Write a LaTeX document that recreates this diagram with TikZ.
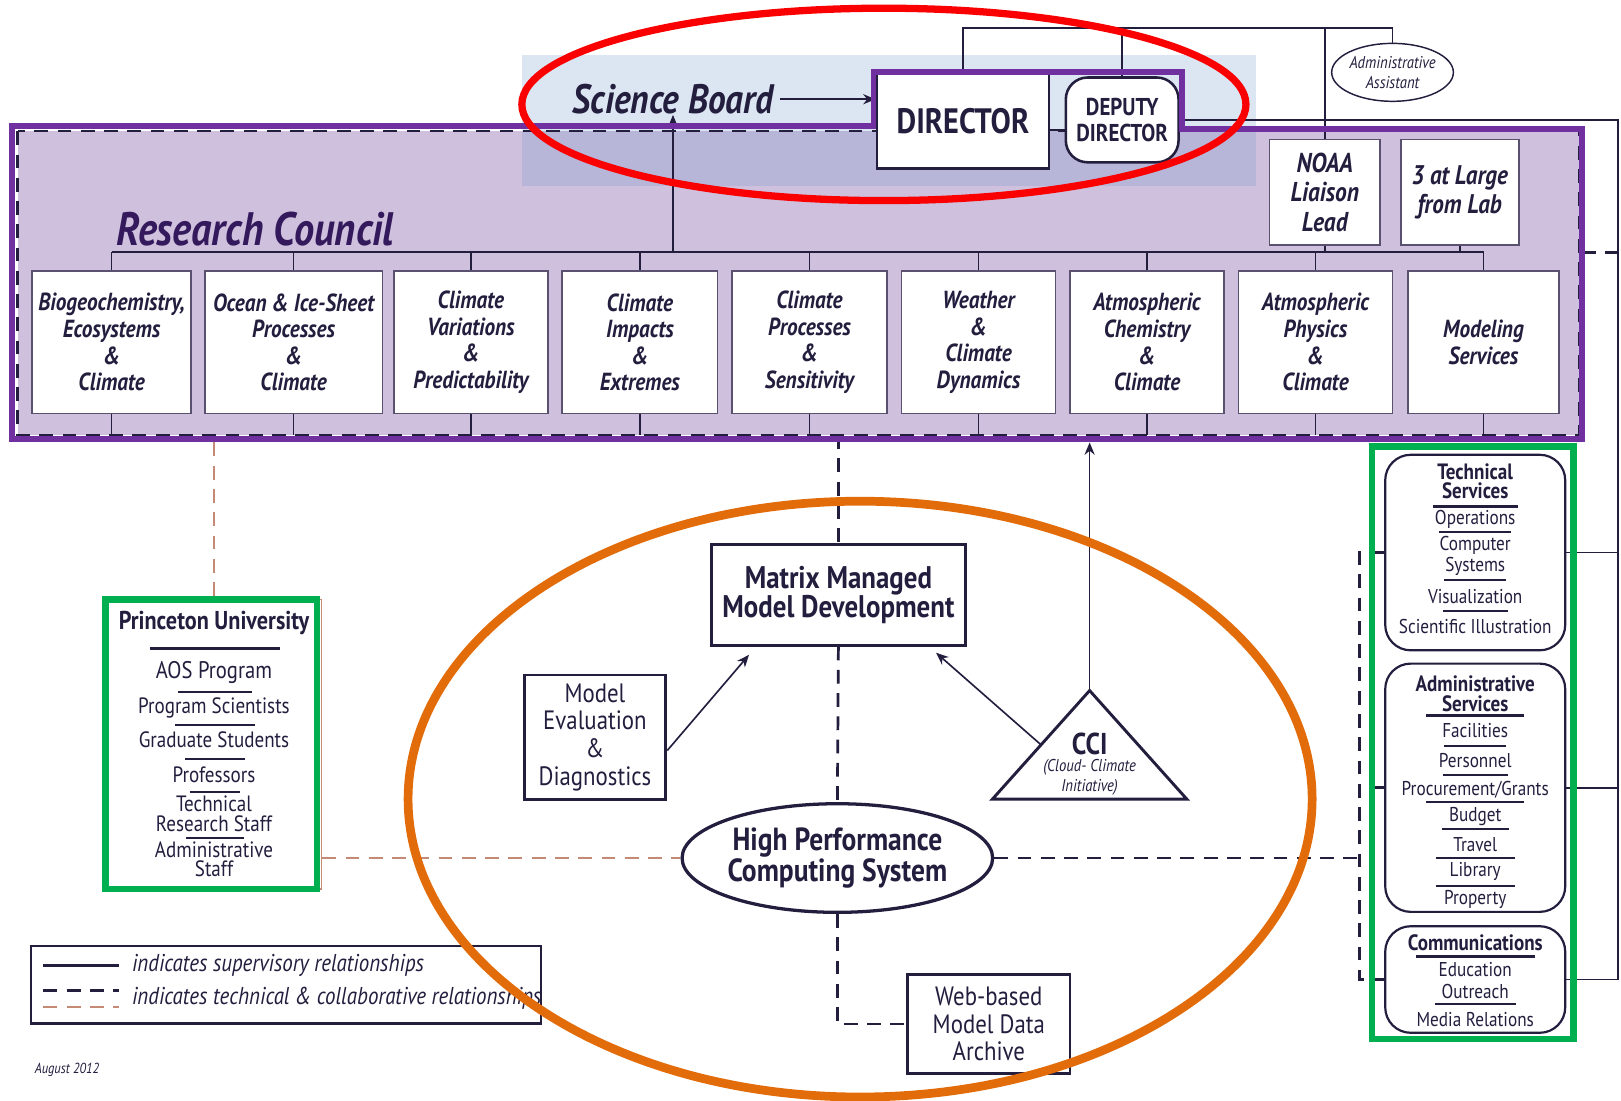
\documentclass[tikz,border=0pt]{standalone}
\usepackage{fontspec}
\setmainfont{PT Sans}[FakeStretch=0.86]
\usetikzlibrary{shapes.geometric,arrows.meta,calc}
\newcommand\fs[2]{\fontsize{#1}{#2}\selectfont}
\definecolor{ink}{RGB}{35,30,62}
\definecolor{lav}{RGB}{207,193,221}
\definecolor{sblue}{RGB}{220,230,242}
\definecolor{sblue2}{RGB}{183,182,216}
\definecolor{purp}{RGB}{112,48,160}
\definecolor{rcol}{RGB}{250,0,0}
\definecolor{ocol}{RGB}{227,108,10}
\definecolor{gcol}{RGB}{0,176,80}
\definecolor{brn}{RGB}{196,138,118}
\definecolor{rctext}{RGB}{52,26,92}
\definecolor{gb}{RGB}{90,80,112}
\newcommand\rl[3]{\draw[line width=0.5pt, draw=ink] (#1-#3/2,#2) -- (#1+#3/2,#2);}
\newcommand\rlt[3]{\draw[line width=0.85pt, draw=ink] (#1-#3/2,#2) -- (#1+#3/2,#2);}
\begin{document}
\begin{tikzpicture}[x=0.01cm,y=-0.01cm,
  ln/.style={draw=ink, line width=0.45pt},
  gbox/.style={draw=gb, line width=0.5pt, fill=white, align=center, inner sep=0pt, text=ink,
    font=\fs{6.8}{7.3}\bfseries\itshape, minimum height=1.38cm},
  dsh/.style={dashed, dash pattern=on 3.8pt off 2.6pt, line width=0.75pt, draw=ink},
  bdsh/.style={dsh, draw=brn},
  arr/.style={-{Stealth[length=3.4pt,width=2.8pt]}, line width=0.45pt, draw=ink},
  sv/.style={font=\fs{5.5}{6}, text=ink, inner sep=0pt},
  svb/.style={font=\fs{6.1}{6.6}\bfseries, text=ink, inner sep=0pt},
  pt/.style={font=\fs{6.1}{6.6}, text=ink, inner sep=0pt},
  box/.style={draw=ink, line width=0.8pt, fill=white, align=center, inner sep=0pt, text=ink}]
\useasboundingbox[fill=white] (0,0) rectangle (1568,1065);

% backgrounds
\fill[lav] (17,127) rectangle (1527,421);
\fill[sblue] (505,53) rectangle (1215,127);
\fill[sblue2] (505,127) rectangle (1215,180);
\draw[dsh, line width=0.6pt] (17,127) rectangle (1527,421);

% coordinates
\coordinate (topbar) at (0,27);
\coordinate (bus) at (0,244);
\coordinate (rcb) at (0,421);
\coordinate (rcb2) at (0,428);
\coordinate (dd) at (0,126);
\coordinate (re) at (1565,0);
\coordinate (brk) at (1315,0);
\coordinate (rcR) at (1530,244);
\coordinate (edgeR) at (1568,244);

% top nodes
\node[name=sb, font=\fs{11.3}{12}\bfseries\itshape, text=ink, inner sep=0pt] at (651,96) {Science Board};
\node[name=dir, draw=ink, line width=0.6pt, fill=white, minimum width=1.67cm, minimum height=0.91cm,
  font=\fs{9.7}{11}\bfseries, text=ink] at (931.5,117.5) {DIRECTOR};
\node[name=dep, draw=ink, line width=0.7pt, fill=white, rounded corners=6pt, minimum width=1.09cm,
  minimum height=0.82cm, align=center, font=\fs{6.7}{7.2}\bfseries, text=ink, inner sep=0pt] at (1085.5,116) {DEPUTY\\DIRECTOR};
\node[name=aa, ellipse, draw=ink, line width=0.4pt, fill=white, minimum width=1.0cm, minimum height=0.56cm,
  inner sep=0pt, align=center, font=\fs{4.7}{5.4}\itshape, text=ink] at (1347,70) {Administrative\\Assistant};

\node[name=noaa, gbox, minimum width=1.07cm, minimum height=1.02cm, font=\fs{7.5}{8.1}\bfseries\itshape] at (1281.5,186) {NOAA\\Liaison\\Lead};
\node[name=lab, gbox, minimum width=1.14cm, minimum height=1.02cm, font=\fs{7.4}{8}\bfseries\itshape] at (1412,186) {3 at Large\\from Lab};

\node[name=rc, anchor=west, font=\fs{12.9}{14}\bfseries\itshape, text=rctext, inner sep=0pt] at (112,222) {Research Council};

% research groups
\node[name=g1, gbox, minimum width=1.54cm] at (108,331) {Biogeochemistry,\\Ecosystems\\\&\\Climate};
\node[name=g2, gbox, minimum width=1.72cm] at (284,331) {Ocean \& Ice-Sheet\\Processes\\\&\\Climate};
\node[name=g3, gbox, minimum width=1.49cm] at (455.5,331) {Climate\\Variations\\\&\\Predictability};
\node[name=g4, gbox, minimum width=1.50cm] at (619,331) {Climate\\Impacts\\\&\\Extremes};
\node[name=g5, gbox, minimum width=1.50cm] at (783,331) {Climate\\Processes\\\&\\Sensitivity};
\node[name=g6, gbox, minimum width=1.49cm] at (946.5,331) {Weather\\\&\\Climate\\Dynamics};
\node[name=g7, gbox, minimum width=1.49cm] at (1109.5,331) {Atmospheric\\Chemistry\\\&\\Climate};
\node[name=g8, gbox, minimum width=1.49cm] at (1272.5,331) {Atmospheric\\Physics\\\&\\Climate};
\node[name=g9, gbox, minimum width=1.46cm] at (1435,331) {Modeling\\Services};

% council connectors
\draw[ln] (g1.north |- bus) -- (g9.north |- bus);
\foreach \g in {g1,g2,g3,g4,g5,g6,g7,g8,g9} {
  \draw[ln] (\g.north) -- (\g.north |- bus);
  \draw[ln] (\g.south) -- (\g.south |- rcb);
}
\draw[ln] (noaa.south) -- (noaa.south |- bus);
\draw[ln] (lab.south) -- (lab.south |- bus);
\draw[arr] (sb.south |- bus) -- (sb.south);
\draw[arr] ($(sb.east)+(6,0)$) -- (sb.east -| dir.west);

% top connectors
\draw[ln] (dir.north) -- (dir.north |- topbar) -- (aa.north |- topbar) -- (aa.north);
\draw[ln] (dep.north) -- (dep.north |- topbar);
\draw[ln] (noaa.north) -- (noaa.north |- topbar);
\draw[ln] (dir.east |- dd) -- (dep.west |- dd);
\draw[dsh] (rcR) -- (edgeR);

% services
\node[name=ts, draw=ink, line width=0.6pt, fill=white, rounded corners=7pt, minimum width=1.74cm, minimum height=1.89cm] at (1427,534.5) {};
\node[name=as, draw=ink, line width=0.6pt, fill=white, rounded corners=7pt, minimum width=1.74cm, minimum height=2.40cm] at (1427,762) {};
\node[name=comm, draw=ink, line width=0.6pt, fill=white, rounded corners=7pt, minimum width=1.74cm, minimum height=1.03cm] at (1427,947.5) {};

\node[name=ts1, svb] at (1427,456) {Technical};
\node[name=ts2, svb] at (1427,475) {Services};
\rlt{1427}{490}{82}
\node[name=ts3, sv] at (1427,502) {Operations};
\rl{1427}{515}{70}
\node[name=ts4, sv] at (1427,528) {Computer};
\node[name=ts5, sv] at (1427,548) {Systems};
\rl{1427}{561}{60}
\node[name=ts6, sv] at (1427,577) {Visualization};
\rl{1427}{591}{63}
\node[name=ts7, sv] at (1427,606) {Scientific Illustration};

\node[name=as1, svb] at (1427,661) {Administrative};
\node[name=as2, svb] at (1427,681) {Services};
\rlt{1427}{692}{95}
\node[name=as3, sv] at (1427,707) {Facilities};
\rl{1427}{722}{60}
\node[name=as4, sv] at (1427,736) {Personnel};
\rl{1427}{750}{63}
\node[name=as5, sv] at (1427,764) {Procurement/Grants};
\rl{1427}{776}{95}
\node[name=as6, sv] at (1427,790) {Budget};
\rl{1427}{802}{65}
\node[name=as7, sv] at (1427,817) {Travel};
\rl{1427}{830}{76}
\node[name=as8, sv] at (1427,843) {Library};
\rl{1427}{857}{76}
\node[name=as9, sv] at (1427,870) {Property};

\node[name=cm1, svb] at (1427,912) {Communications};
\rlt{1427}{925}{115}
\node[name=cm2, sv] at (1427,938) {Education};
\node[name=cm3, sv] at (1427,959) {Outreach};
\rl{1427}{971}{78}
\node[name=cm4, sv] at (1427,986) {Media Relations};

\draw[ln] (dep.east) -- (dep.east -| re) -- (re |- comm.east) -- (comm.east);
\draw[ln] (ts.east) -- (ts.east -| re);
\draw[ln] (as.east) -- (as.east -| re);
\draw[dsh] (ts.west) -- (ts.west -| brk) -- (brk |- comm.west) -- (comm.west);
\draw[dsh] (as.west) -- (as.west -| brk);

% Princeton
\node[name=pu, draw=brn, line width=0.4pt, fill=white, minimum width=2.08cm, minimum height=2.80cm] at (207,720) {};
\node[name=pu0, font=\fs{7.1}{7.2}\bfseries, text=ink, inner sep=0pt] at (207,603) {Princeton University};
\rlt{208}{627}{126}
\node[name=pu1, font=\fs{6.6}{7}, text=ink, inner sep=0pt] at (207,651) {AOS Program};
\rl{208}{669}{72}
\node[name=pu2, pt] at (207,685) {Program Scientists};
\rl{208}{701}{77}
\node[name=pu3, pt] at (207,716) {Graduate Students};
\rl{208}{734}{58}
\node[name=pu4, pt] at (207,749) {Professors};
\rl{208}{766}{49}
\node[name=pu5, pt] at (207,778) {Technical};
\node[name=pu6, pt] at (207,797) {Research Staff};
\rl{208}{811}{56}
\node[name=pu7, pt] at (207,822) {Administrative};
\node[name=pu8, pt] at (207,840) {Staff};

% central part
\node[name=mmd, box, minimum width=2.46cm, minimum height=0.97cm, font=\fs{8.6}{8.1}\bfseries] at (811,575.5) {Matrix Managed\\Model Development};
\node[name=me, box, minimum width=1.37cm, minimum height=1.20cm, font=\fs{7.3}{7.6}] at (575.5,713) {Model\\Evaluation\\\&\\Diagnostics};
\coordinate (ccitop) at (1054,668);
\coordinate (ccil) at (960,773);
\coordinate (ccir) at (1148,773);
\draw[draw=ink, line width=0.8pt, fill=white] (ccitop) -- (ccil) -- (ccir) -- cycle;
\node[name=cci, font=\fs{8.3}{9}\bfseries, text=ink, inner sep=0pt] at (1054,720) {CCI};
\node[name=ccis, font=\fs{4.7}{4.3}\itshape, text=ink, align=center, inner sep=0pt] at (1054,752) {(Cloud- Climate\\Initiative)};
\node[name=hpc, ellipse, draw=ink, line width=0.9pt, fill=white, minimum width=2.92cm, minimum height=1.05cm,
  inner sep=0pt, align=center, font=\fs{8.8}{8.6}\bfseries, text=ink] at (810,830) {High Performance\\Computing System};
\node[name=web, box, minimum width=1.57cm, minimum height=0.95cm, font=\fs{7.3}{7.6}] at (956.5,990.5) {Web-based\\Model Data\\Archive};

\draw[arr] ($(me.east)+(0,13)$) -- ($(mmd.south west)+(38,8)$);
\draw[arr] ($(ccitop)!0.5!(ccil)$) -- ($(mmd.south east)+(-30,6)$);
\draw[arr] (ccitop) -- (ccitop |- rcb2);
\draw[dsh] (mmd.north |- rcb) -- (mmd.north);
\draw[dsh] (mmd.south) -- (hpc.north);
\draw[dsh] (hpc.south) |- (web.west);
\draw[dsh] (hpc.east) -- (hpc.east -| brk);
\draw[bdsh] (pu.north |- rcb2) -- (pu.north);
\draw[bdsh] (pu.east |- hpc.west) -- (hpc.west);

% legend
\node[name=leg, draw=ink, line width=0.6pt, minimum width=4.93cm, minimum height=0.75cm] at (276.5,952.5) {};
\draw[ln, line width=0.6pt] (42,934) -- (115,934);
\draw[dsh] (42,958) -- (115,958);
\draw[bdsh] (42,974) -- (115,974);
\node[name=l1, anchor=west, font=\fs{6.7}{7}\itshape, text=ink, inner sep=0pt] at (127,934) {indicates supervisory relationships};
\node[name=l2, anchor=west, font=\fs{6.7}{7}\itshape, text=ink, inner sep=0pt] at (127,966) {indicates technical \& collaborative relationships};
\node[name=aug, anchor=west, font=\fs{4}{5}\itshape, text=ink, inner sep=0pt] at (33,1035) {August 2012};

% highlight annotations
\draw[purp, line width=1.6pt] (12,122) -- (845,122) -- (845,70) -- (1143,70) -- (1143,125) -- (1530,125) -- (1530,425) -- (12,425) -- cycle;
\draw[rcol, line width=2pt] (855,101) ellipse [x radius=3.5cm, y radius=0.93cm];
\draw[gcol, line width=1.7pt] (102,580) rectangle (307,860);
\draw[gcol, line width=1.7pt] (1327,432) rectangle (1522,1005);
\draw[ocol, line width=2.4pt] (832,773) ellipse [x radius=4.37cm, y radius=2.88cm];
\end{tikzpicture}
\end{document}
